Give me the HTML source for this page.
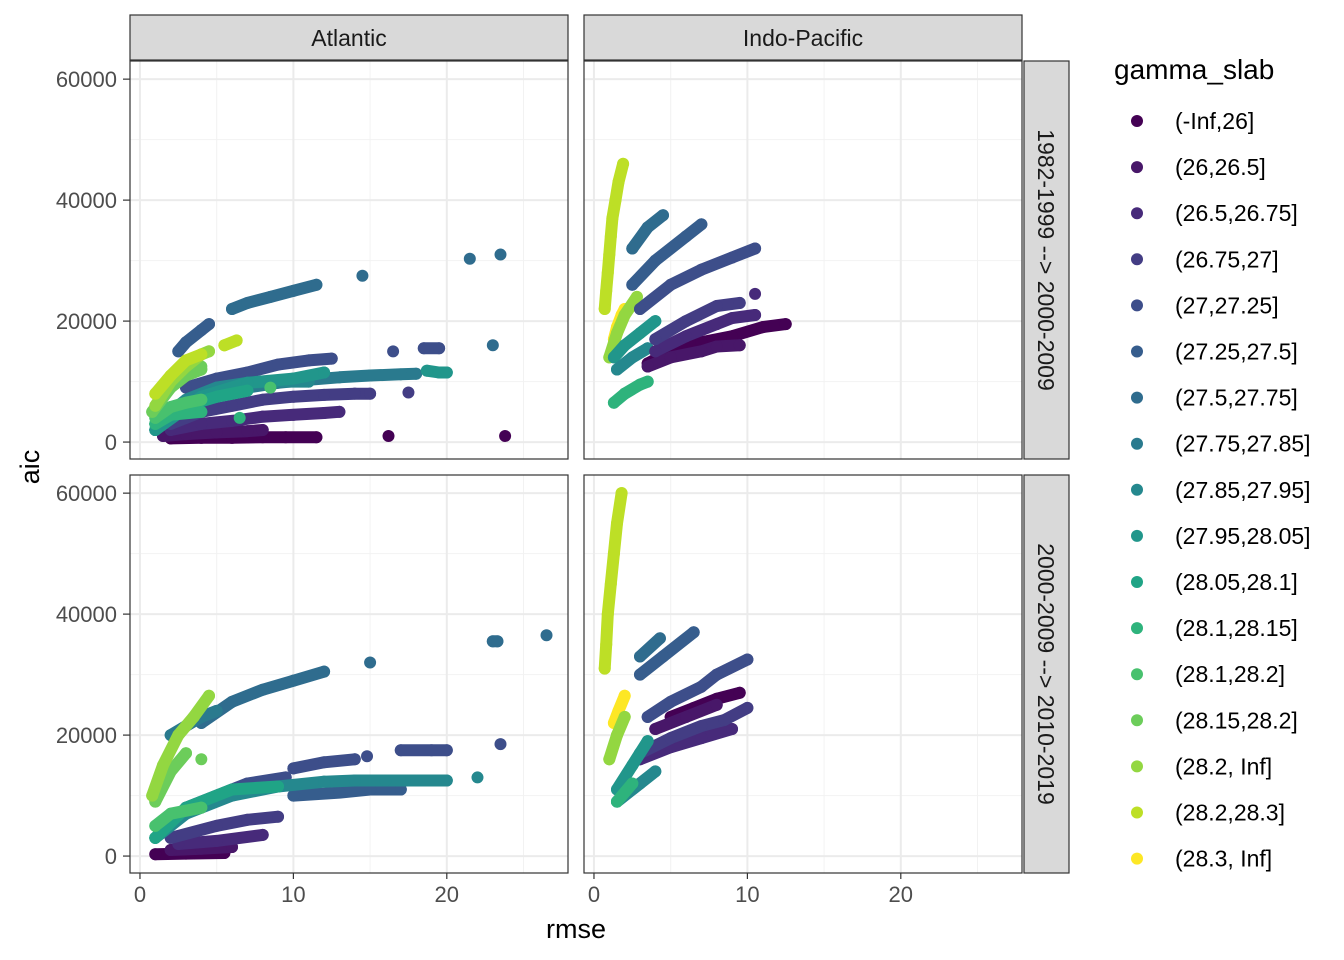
<!DOCTYPE html>
<html><head><meta charset="utf-8"><style>
body{margin:0;background:#fff}
svg{display:block;font-family:"Liberation Sans",sans-serif}
</style></head><body>
<svg id="chart" width="1344" height="960"></svg>
<script>
const groups=["(-Inf,26]","(26,26.5]","(26.5,26.75]","(26.75,27]","(27,27.25]","(27.25,27.5]","(27.5,27.75]","(27.75,27.85]","(27.85,27.95]","(27.95,28.05]","(28.05,28.1]","(28.1,28.15]","(28.1,28.2]","(28.15,28.2]","(28.2, Inf]","(28.2,28.3]","(28.3, Inf]"];
const colors=["#440154","#481769","#472A7A","#433D84","#3D4E8A","#365D8D","#2F6C8E","#2A7A8E","#25888E","#21968B","#20A486","#2EB37C","#48C16E","#6CCD5A","#93D741","#BDDF26","#FDE725"];
const basins=["Atlantic","Indo-Pacific"];
const periods=["1982-1999 --> 2000-2009","2000-2009 --> 2010-2019"];
const xTicks=[0,10,20];
const yTicks=[0,20000,40000,60000];
// series: [group, [[rmse, aic(thousands)],...]]
const atlTop=[
[0,[[2,0.6],[4,0.7],[6,0.7],[8,0.8],[9.5,0.8],[11.5,0.8]]],[0,[[16.2,1]]],[0,[[23.8,1]]],
[1,[[1.5,1],[3,1.3],[5,1.6],[7,1.8],[8,2]]],
[2,[[2,2],[4,3],[6,3.5],[8,4.2],[10,4.5],[12,4.8],[13,5]]],
[3,[[2,3],[4,5],[6,6],[8,7],[10,7.5],[12,7.8],[14,8],[15,8]]],[3,[[17.5,8.2]]],
[4,[[3,9],[5,10.5],[7,11.5],[9,12.8],[11,13.5],[12.5,13.8]]],[4,[[16.5,15]]],[4,[[18.5,15.5],[19.5,15.5]]],
[5,[[2.5,15],[3,16.5],[4,18.5],[4.5,19.5]]],
[6,[[6,22],[7,23],[8.5,24],[10,25],[11.5,26]]],[6,[[14.5,27.5]]],[6,[[21.5,30.3]]],[6,[[23.5,31]]],[6,[[23,16]]],
[7,[[1,2],[3,6],[5,8],[7,9],[9,9.8],[11,10.3],[13,10.7],[15,11],[17,11.2],[18,11.3]]],
[8,[[1.5,4],[3,7],[5,9],[7,9.8],[9,10],[11,10]]],
[9,[[1,2],[4,7.5],[7,9.8],[10,10.5],[12,11.5]]],[9,[[18.7,11.8],[19.5,11.5],[20,11.5]]],
[10,[[1,3],[3,6],[5,7.5],[7,8.5]]],
[11,[[1,3],[2,4.5],[4,5]]],[11,[[6.5,4]]],
[12,[[1,4],[2,5.8],[3,6.5],[4,7]]],[12,[[8.5,9]]],
[13,[[0.8,5],[2,9],[3,11],[4,12]]],[13,[[4,12.5]]],
[14,[[1,6],[2,10],[3,12.5],[4,14.5],[4.5,15]]],
[15,[[1,8],[2,11],[3,13.5],[4,14.5]]],[15,[[5.5,16],[6.3,16.8]]]
];
const ipTop=[
[15,[[0.7,22],[0.8,25],[0.9,28],[1.0,31],[1.1,34],[1.2,37],[1.4,40],[1.6,43],[1.9,46]]],
[16,[[1.3,17],[1.5,19],[1.8,21],[2.0,22]]],
[14,[[1.0,14],[1.5,18],[2,21],[2.8,24]]],
[9,[[1.3,14],[2,16],[3,18],[4,20]]],
[8,[[1.5,12],[2.5,14],[3.5,15.5]]],
[11,[[1.3,6.5],[2,8],[3,9.5],[3.5,10]]],
[0,[[3.5,13],[5,15],[7,16.5],[9,17.5],[11,19],[12.5,19.5]]],
[1,[[3.5,12.5],[5,14],[7,15],[8,15.8],[9.5,16]]],
[2,[[4,15],[6,17.5],[8,19.5],[9,20.5],[10.5,21]]],[2,[[10.5,24.5]]],
[3,[[4,17],[6,20],[8,22.5],[9.5,23]]],
[4,[[3,22],[5,26],[7,28.5],[9,30.5],[10.5,32]]],
[5,[[2.5,26],[4,30],[6,34],[7,36]]],
[6,[[2.5,32],[3.5,35.5],[4.5,37.5]]]
];
const atlBot=[
[0,[[1,0.3],[3,0.4],[5.5,0.5]]],
[1,[[2,1],[4,1.2],[6,1.5]]],
[2,[[2.5,2],[5,2.5],[8,3.5]]],
[3,[[2,3],[5,5],[7,6],[9,6.5]]],
[4,[[3,8],[5,10],[7,12],[9.5,13]]],[4,[[10,14.5],[12,15.5],[14,16]]],[4,[[17,17.5],[19,17.5],[20,17.5]]],[4,[[23.5,18.5]]],[4,[[14.8,16.5]]],
[5,[[10,10],[13,10.5],[15,11],[17,11]]],
[6,[[4,22],[6,25.5],[8,27.5],[10,29],[12,30.5]]],[6,[[15,32]]],[6,[[23,35.5],[23.3,35.5]]],[6,[[26.5,36.5]]],
[7,[[2,20],[3,21.5],[4,23],[5,24]]],
[8,[[1,3],[3,7],[6,10],[9,11.5],[12,12.3],[14,12.5],[16,12.5],[18,12.5],[20,12.5]]],[8,[[22,13]]],
[10,[[1,3],[3,8],[6,11],[9,11.5]]],
[12,[[1,5],[2,7],[4,8]]],
[13,[[1,9],[2,14],[3,17]]],[13,[[4,16]]],
[14,[[0.8,10],[1.5,15],[2.5,20],[3.5,23],[4.5,26.5]]]
];
const ipBot=[
[15,[[0.7,31],[0.8,35],[0.9,40],[1.1,45],[1.3,50],[1.5,55],[1.8,60]]],
[16,[[1.3,22],[1.6,24],[2,26.5]]],
[14,[[1,16],[1.5,20],[2,23]]],
[0,[[5,23],[6.5,24.5],[8,26],[9.5,27]]],
[1,[[4,21],[6,23],[8,25]]],
[2,[[3,16],[5,18],[7,19.5],[9,21]]],
[3,[[3,17],[5,19.5],[7,21.5],[8.5,22.5],[10,24.5]]],
[4,[[3.5,23],[5,25.5],[7,28],[8,30],[10,32.5]]],
[5,[[3,30],[4.5,33],[6.5,37]]],
[6,[[3,33],[4.3,36]]],
[9,[[1.5,11],[2.5,15],[3.5,19]]],
[8,[[1.5,9],[3,12],[4,14]]],
[11,[[1.5,9],[2.5,12]]]
];
const panels=[[atlTop,0,0],[ipTop,1,0],[atlBot,0,1],[ipBot,1,1]];
const NS="http://www.w3.org/2000/svg";
const svg=document.getElementById('chart');
function el(t,a,p){const e=document.createElementNS(NS,t);for(const k in a)e.setAttribute(k,a[k]);(p||svg).appendChild(e);return e;}
const PX=[130,584],PW=438,PY=[61,475],PH=398;
const xMin=-0.65,xMax=27.9,yMin=-2.8,yMax=63.0;
function sx(c,v){return PX[c]+(v-xMin)/(xMax-xMin)*PW;}
function sy(r,v){return PY[r]+PH-(v-yMin)/(yMax-yMin)*PH;}
function syv(r,v){return sy(r,v/1000);}
panels.forEach(([data,c,r])=>{
 const g=el('g',{});
 
 
 el('rect',{x:PX[c],y:PY[r],width:PW,height:PH,fill:'#fff'},g);
 [5,15,25].forEach(v=>el('line',{x1:sx(c,v),x2:sx(c,v),y1:PY[r],y2:PY[r]+PH,stroke:'#f2f2f2','stroke-width':1},g));
 [10000,30000,50000].forEach(v=>el('line',{x1:PX[c],x2:PX[c]+PW,y1:syv(r,v),y2:syv(r,v),stroke:'#f2f2f2','stroke-width':1},g));
 xTicks.forEach(v=>el('line',{x1:sx(c,v),x2:sx(c,v),y1:PY[r],y2:PY[r]+PH,stroke:'#ebebeb','stroke-width':2},g));
 yTicks.forEach(v=>el('line',{x1:PX[c],x2:PX[c]+PW,y1:syv(r,v),y2:syv(r,v),stroke:'#ebebeb','stroke-width':2},g));
 data.forEach(([gi,pts])=>{
  const s=el('g',{},g);
  
  
  const d=pts.map((p,i)=>(i?'L':'M')+sx(c,p[0]).toFixed(1)+','+sy(r,p[1]).toFixed(1)).join('');
  el('path',{d:d,stroke:colors[gi],'stroke-width':12,'stroke-linecap':'round','stroke-linejoin':'round',fill:'none'},s);
  pts.forEach(p=>{const pt=el('circle',{cx:sx(c,p[0]),cy:sy(r,p[1]),r:6,fill:colors[gi]},s);
   
   });
 });
 el('rect',{x:PX[c],y:PY[r],width:PW,height:PH,fill:'none',stroke:'#333','stroke-width':1.2},g);
});
basins.forEach((b,c)=>{
 const s=el('g',{});
 
 
 el('rect',{x:PX[c],y:15,width:PW,height:45,fill:'#d9d9d9',stroke:'#333','stroke-width':1.2},s);
 const t=el('text',{x:PX[c]+PW/2,y:46,'text-anchor':'middle','font-size':23,fill:'#1a1a1a'},s);t.textContent=b;
});
periods.forEach((p,r)=>{
 const s=el('g',{});
 
 
 el('rect',{x:1024,y:PY[r],width:45,height:PH,fill:'#d9d9d9',stroke:'#333','stroke-width':1.2},s);
 const cx=1038,cy=PY[r]+PH/2;
 const t=el('text',{x:cx,y:cy,'text-anchor':'middle','font-size':23,fill:'#1a1a1a',transform:`rotate(90 ${cx} ${cy})`},s);t.textContent=p;
});
[0,1].forEach(r=>{
 const a=el('g',{});
 
 
 yTicks.forEach(v=>{const y=syv(r,v);
  el('line',{x1:123,x2:130,y1:y,y2:y,stroke:'#333','stroke-width':1.2},a);
  const t=el('text',{x:117,y:y+8,'text-anchor':'end','font-size':22,fill:'#4d4d4d'},a);t.textContent=v;});
});
[0,1].forEach(c=>{
 const a=el('g',{});
 
 
 xTicks.forEach(v=>{const x=sx(c,v);
  el('line',{x1:x,x2:x,y1:873,y2:879,stroke:'#333','stroke-width':1.2},a);
  const t=el('text',{x:x,y:902,'text-anchor':'middle','font-size':22,fill:'#4d4d4d'},a);t.textContent=v;});
});
let t=el('text',{x:576,y:938,'text-anchor':'middle','font-size':27,fill:'#000'});t.textContent='rmse';


t=el('text',{x:39,y:467,'text-anchor':'middle','font-size':27,fill:'#000',transform:'rotate(-90 39 467)'});t.textContent='aic';


const lg=el('g',{});


t=el('text',{x:1114,y:79,'font-size':28,fill:'#000'},lg);t.textContent='gamma_slab';
groups.forEach((gname,i)=>{
 const e=el('g',{},lg);
 
 
 const y=121+i*46.1;
 el('circle',{cx:1137,cy:y,r:6,fill:colors[i]},e);
 const tt=el('text',{x:1175,y:y+8,'font-size':23,fill:'#000'},e);tt.textContent=gname;
});
</script>
</body></html>
